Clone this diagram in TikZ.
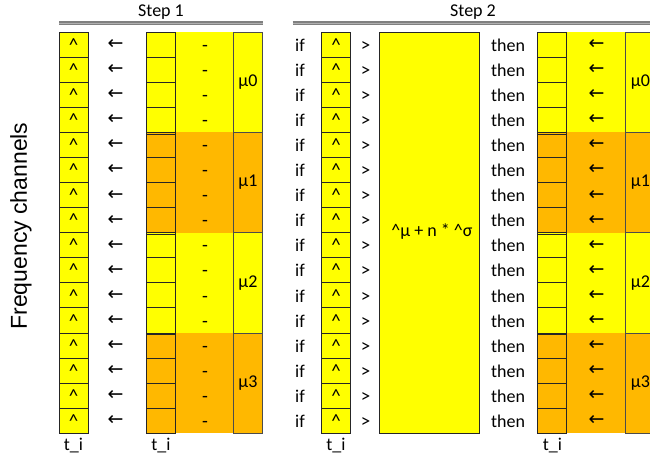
\documentclass[tikz,border=0pt]{standalone}
\usepackage{fontspec}
\setmainfont{Carlito}
\newfontfamily\arialf{Liberation Sans}
\newfontfamily\djv{DejaVu Sans}
\definecolor{yel}{HTML}{FFFF00}
\definecolor{org}{HTML}{FFB800}
\definecolor{rulegray}{HTML}{808080}
\definecolor{rulelight}{HTML}{B0B0B0}
\tikzset{
  lbl/.style={inner sep=0pt, font=\fontsize{18}{21}\selectfont},
  rowtxt/.style={inner sep=0pt, anchor=base, font=\fontsize{18}{21}\selectfont},
  sym/.style={inner sep=0pt, anchor=base, font=\fontsize{19}{22}\selectfont},
  arr/.style={inner sep=0pt, font=\djv\fontsize{19}{22}\selectfont},
  cell/.style={draw=black!85, line width=0.9pt},
  mubox/.style={draw=black!70, line width=0.9pt},
  steprule/.style={draw=rulegray, line width=1.3pt, double=rulelight, double distance=0.8pt},
}
\begin{document}
\begin{tikzpicture}[x=1pt,y=-1pt]
\useasboundingbox (0,0) rectangle (650,459);
\clip (0,0) rectangle (650,459);
\fill[white] (0,0) rectangle (650,459);

% titles and rules
\node[lbl] (s1) at (161,12) {Step 1};
\node[lbl] (s2) at (473,12) {Step 2};
\coordinate (r1a) at (59,23); \coordinate (r1b) at (262.7,23);
\coordinate (r2a) at (292.7,23); \coordinate (r2b) at (652,23);
\draw[steprule] (r1a) -- (r1b);
\draw[steprule] (r2a) -- (r2b);

% side label
\node[inner sep=0pt, rotate=90, font=\arialf\fontsize{23}{26}\selectfont] (fc) at (21,226) {Frequency channels};

% group bands
\foreach \g/\col in {0/yel,1/org,2/yel,3/org} {
  \pgfmathsetmacro\gt{32+4*\g*25.08}
  \pgfmathsetmacro\gb{\gt+4*25.08}
  \pgfmathsetmacro\gc{\gt+2*25.08}
  \fill[\col] (146.7,\gt) rectangle (262.7,\gb);
  \fill[\col] (537.7,\gt) rectangle (656,\gb);
  \draw[mubox] (233,\gt) rectangle (262.7,\gb);
  \draw[mubox] (625,\gt) rectangle (656,\gb);
  \node[lbl] (mua\g) at (248,\gc) {μ\g};
  \node[lbl] (mub\g) at (640.5,\gc) {μ\g};
}

% big box
\node[cell, fill=yel, minimum width=100pt, minimum height=401.3pt, inner sep=0pt, anchor=north west] (big) at (379.3,32) {};
\node[lbl] (form) at (432,232) {\textasciicircum μ + n * \textasciicircum σ};

% rows
\foreach \i in {0,...,15} {
  \pgfmathsetmacro\yt{32+\i*25.08}
  \pgfmathsetmacro\yb{\yt+25.08}
  \pgfmathsetmacro\yc{\yt+12.54}
  \pgfmathsetmacro\ybl{\yt+19.2}
  \draw[cell, fill=yel] (59,\yt) rectangle (88,\yb);
  \node[sym] (ca\i) at (73.5,\ybl) {\textasciicircum};
  \node[arr] (aa\i) at (115.5,\yc) {←};
  \draw[cell] (146.7,\yt) rectangle (175.7,\yb);
  \node[sym] (da\i) at (205,\ybl) {-};
  \node[rowtxt] (if\i) at (300,\ybl) {if};
  \draw[cell, fill=yel] (321,\yt) rectangle (350.7,\yb);
  \node[sym] (cb\i) at (336,\ybl) {\textasciicircum};
  \node[sym] (gt\i) at (365.7,\ybl) {>};
  \node[rowtxt] (th\i) at (508,\ybl) {then};
  \draw[cell] (537.7,\yt) rectangle (566.7,\yb);
  \node[arr] (ab\i) at (596.7,\yc) {←};
}

% doubled boundaries in t_i columns
\foreach \g in {1,2,3} {
  \pgfmathsetmacro\bb{32+4*\g*25.08+1.9}
  \draw[cell] (146.7,\bb) -- (175.7,\bb);
  \draw[cell] (537.7,\bb) -- (566.7,\bb);
}

% bottom labels
\node[lbl] (t1) at (73.5,446) {t\_i};
\node[lbl] (t2) at (161,446) {t\_i};
\node[lbl] (t3) at (336,446) {t\_i};
\node[lbl] (t4) at (552.5,446) {t\_i};
\end{tikzpicture}
\end{document}
